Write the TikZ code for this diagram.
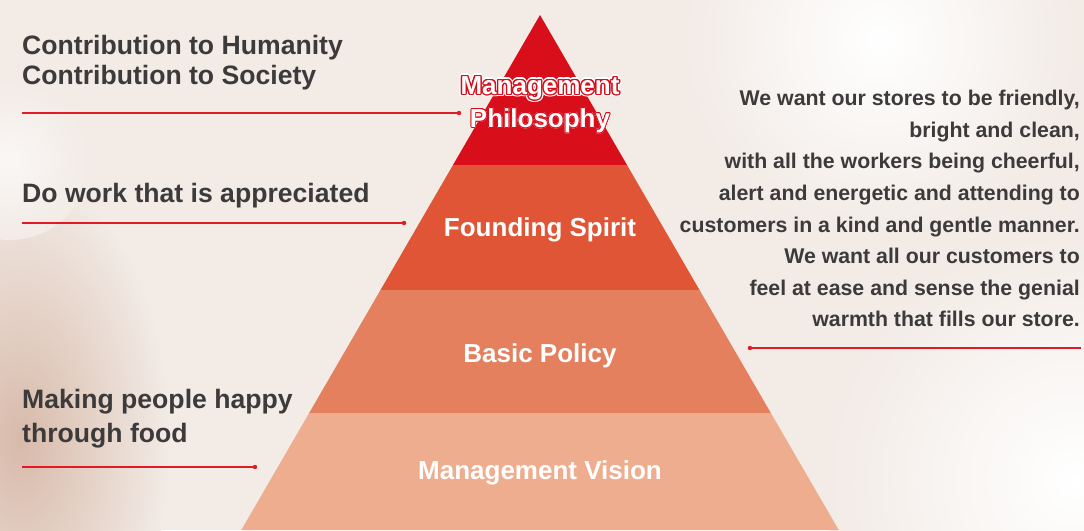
\documentclass[tikz,border=0pt]{standalone}
\usepackage{fontspec}
\setmainfont{Liberation Sans}
\usepackage{contour}
\usepackage{tikz}
\definecolor{ink}{RGB}{60,58,58}
\definecolor{line_red}{RGB}{226,26,38}
\definecolor{top_red}{RGB}{216,14,27}
\definecolor{spirit_orange}{RGB}{223,85,53}
\definecolor{policy_orange}{RGB}{229,128,94}
\definecolor{vision_peach}{RGB}{238,173,142}
\definecolor{paper}{RGB}{242,235,230}
\definecolor{blur_tan}{RGB}{216,186,170}

\begin{document}
\begin{tikzpicture}[x=1pt,y=-1pt,
	side/.style={text=ink,font=\bfseries\fontsize{26.6}{30.5}\selectfont,inner sep=0,anchor=north west,align=left},
	layer/.style={text=white,font=\bfseries\fontsize{26}{33}\selectfont,inner sep=0,anchor=base},
	tie/.style={line_red,line width=1.1pt}]
	\useasboundingbox (0,0) rectangle (1084,530);

	% blurred background
	\fill[paper] (0,0) rectangle (1084,530);
	\shade[inner color=blur_tan,outer color=paper] (20,440) ellipse (150 and 270);
	\shade[inner color=white!60!paper,outer color=paper] (10,160) circle (80);
	\shade[inner color=white,outer color=paper] (880,40) circle (200);
	\shade[inner color=white,outer color=paper] (1075,480) circle (250);

	% pyramid layers, sides run 0.58 across per unit down
	\foreach \ya/\yb/\c in {15/165/top_red,165/290/spirit_orange,290/413/policy_orange,413/530/vision_peach}
		\fill[\c] ({540-0.58*(\ya-15)},\ya) -- ({540+0.58*(\ya-15)},\ya)
			-- ({540+0.58*(\yb-15)},\yb) -- ({540-0.58*(\yb-15)},\yb) -- cycle;

	% layer labels
	\node[layer,anchor=center,align=center] (philosophy_halo) at (540,105)
		{\contourlength{2.6pt}\contour{white}{Management}\\\contour{white}{Philosophy}};
	\node[layer,anchor=center,align=center] (philosophy) at (540,105)
		{\contourlength{1.3pt}\contour{top_red}{Management}\\\contour{top_red}{Philosophy}};
	\node[layer] (spirit) at (540,236) {Founding Spirit};
	\node[layer] (policy) at (540,362) {Basic Policy};
	\node[layer] (vision) at (540,479) {Management Vision};

	% side texts
	\node[side] (humanity) at (22,35) {Contribution to Humanity\\Contribution to Society};
	\node[side] (work) at (22,183) {Do work that is appreciated};
	\node[side,font=\bfseries\fontsize{26.6}{34.5}\selectfont] (happy) at (22,389) {Making people happy\\through food};
	\node[side,anchor=north east,align=right,font=\bfseries\fontsize{21.3}{31.6}\selectfont] (stores) at (1080,90)
		{We want our stores to be friendly,\\bright and clean,\\with all the workers being cheerful,\\alert and energetic and attending to\\customers in a kind and gentle manner.\\We want all our customers to\\feel at ease and sense the genial\\warmth that fills our store.};

	% leader lines with a dot at the pyramid end
	\coordinate (h0) at (22,113);   \coordinate (h1) at (459,113);
	\coordinate (w0) at (22,223);   \coordinate (w1) at (404,223);
	\coordinate (p0) at (22,467);   \coordinate (p1) at (255,467);
	\coordinate (s0) at (1081,348); \coordinate (s1) at (750,348);
	\foreach \a/\b in {h0/h1,w0/w1,p0/p1,s0/s1} {
		\draw[tie] (\a) -- (\b);
		\fill[line_red] (\b) circle (2.2);
	}
\end{tikzpicture}
\end{document}
